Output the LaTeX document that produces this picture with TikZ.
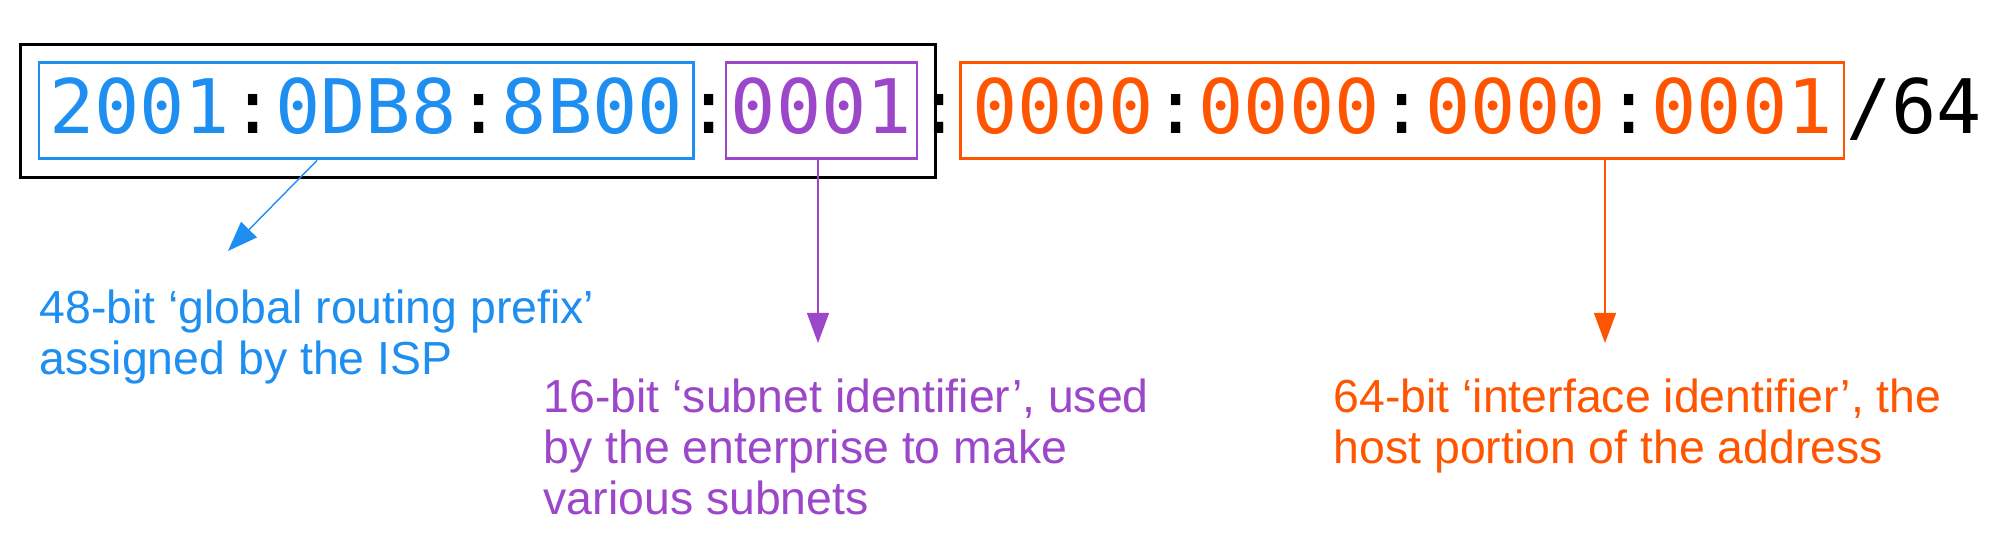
\documentclass[tikz,border=0pt]{standalone}
\usepackage{fontspec}
\setmainfont{Liberation Sans}
\setmonofont{DejaVu Sans Mono}
\usepackage{tikz}
\usetikzlibrary{arrows.meta,positioning,fit,calc}
\definecolor{prefixc}{HTML}{1E8EF0}
\definecolor{subc}{HTML}{9C46C9}
\definecolor{hostc}{HTML}{FF5500}
\tikzset{
  addr/.style={font=\ttfamily\fontsize{21.4pt}{25pt}\selectfont, text height=0.55cm, text depth=0.09cm, inner sep=0pt},
  field/.style={addr, draw=#1, line width=0.85pt, minimum height=0.96cm},
  note/.style={font=\fontsize{13.2pt}{14.5pt}\selectfont, text=#1, align=left, anchor=north west, inner sep=0pt},
  pointer/.style={->, draw=#1, line width=0.4pt}
}

\begin{document}
\begin{tikzpicture}[>={Triangle[length=3mm,width=2.2mm]}]
\useasboundingbox (0,0) rectangle (20,-5.38);
\node[field=prefixc, minimum width=6.54cm] (pre) at (3.66,-1.11) {\textcolor{prefixc}{2001}:\textcolor{prefixc}{0DB8}:\textcolor{prefixc}{8B00}};
\node[field=subc, minimum width=1.91cm] (sub) [right=0.30cm of pre] {\textcolor{subc}{0001}};
\node[field=hostc, minimum width=8.83cm] (host) [right=0.41cm of sub] {\textcolor{hostc}{0000}:\textcolor{hostc}{0000}:\textcolor{hostc}{0000}:\textcolor{hostc}{0001}};
\node[addr] (c1) at ($(pre.east)!0.5!(sub.west)$) {:};
\node[addr] (c2) at ($(sub.east)!0.5!(host.west)$) {:};
\node[addr] (len) [right=0cm of host] {/64};
\node[draw, line width=1pt, fit=(pre)(sub), inner sep=0.17cm] (net) {};

\node[note=prefixc] (preTxt) at (0.39,-2.89) {48-bit ‘global routing prefix’\\assigned by the ISP};
\node[note=subc] (subTxt) at (5.43,-3.78) {16-bit ‘subnet identifier’, used\\by the enterprise to make\\various subnets};
\node[note=hostc] (hostTxt) at (13.33,-3.78) {64-bit ‘interface identifier’, the\\host portion of the address};

\coordinate (preTip) at (2.28,-2.51);
\coordinate (subTip) at (8.18,-3.43);
\coordinate (hostTip) at (16.05,-3.43);
\draw[pointer=prefixc] ([xshift=-0.49cm]pre.south) -- (preTip);
\draw[pointer=subc] (sub.south -| subTip) -- (subTip);
\draw[pointer=hostc] (host.south -| hostTip) -- (hostTip);
\end{tikzpicture}
\end{document}
